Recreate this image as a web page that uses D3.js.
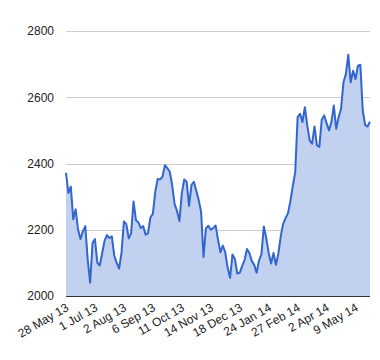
<!DOCTYPE html>
<html><head><meta charset="utf-8">
<script src="https://cdn.jsdelivr.net/npm/d3@7"></script>
<style>body{margin:0;background:#fff;} text{font-family:Arial,"Liberation Sans",sans-serif;}</style>
</head><body>
<svg id="c" width="380" height="360"></svg>
<script>
const xLabels = ["28 May 13","1 Jul 13","2 Aug 13","6 Sep 13","11 Oct 13","14 Nov 13","18 Dec 13","24 Jan 14","27 Feb 14","2 Apr 14","9 May 14"];
const labelStep = 12;
const yTicks = [2000, 2200, 2400, 2600, 2800];
const values = [
2372,2311,2330,2232,2262,2200,2172,2195,2211,2110,
2040,2160,2172,2100,2092,2130,2167,2184,2175,2180,
2122,2100,2083,2130,2225,2217,2174,2190,2285,2229,
2222,2205,2211,2185,2190,2237,2248,2315,2353,2352,
2360,2395,2386,2375,2335,2278,2257,2226,2310,2352,
2345,2272,2335,2345,2318,2290,2254,2118,2204,2212,
2200,2205,2213,2170,2132,2152,2132,2085,2055,2125,
2112,2068,2070,2090,2108,2142,2130,2106,2094,2070,
2107,2126,2210,2175,2130,2098,2130,2094,2127,2180,
2218,2235,2250,2286,2332,2373,2540,2550,2525,2570,
2515,2470,2460,2512,2455,2450,2532,2545,2522,2500,
2525,2575,2505,2540,2565,2645,2670,2728,2645,2680,
2655,2695,2698,2560,2516,2512,2526
];

const svg = d3.select("#c");
const L = 66, R = 370, T = 31, B = 296;
const x = d3.scaleLinear().domain([0, values.length - 1]).range([L, R]);
const y = d3.scaleLinear().domain([2000, 2800]).range([B, T]);

// gridlines + y labels
const ya = svg.append("g").attr("transform", `translate(${L},0)`)
  .call(d3.axisLeft(y).tickValues(yTicks).tickSize(-(R - L)).tickPadding(12).tickFormat(d3.format("d")));
ya.select(".domain").remove();
ya.selectAll(".tick line").attr("stroke", "#ccc").attr("shape-rendering", "crispEdges");
ya.selectAll(".tick text").attr("fill", "#222").attr("font-size", 12)
  .attr("font-family", "Arial, 'Liberation Sans', sans-serif");

// area + line
const area = d3.area().x((d, i) => x(i)).y0(y(2000)).y1(d => y(d));
const line = d3.line().x((d, i) => x(i)).y(d => y(d));
svg.append("path").datum(values).attr("d", area).attr("fill", "#c2d1f0");
svg.append("path").datum(values).attr("d", line).attr("fill", "none")
  .attr("stroke", "#3366cc").attr("stroke-width", 2).attr("stroke-linejoin", "round");

// baseline
svg.append("line").attr("x1", L).attr("x2", R).attr("y1", y(2000)).attr("y2", y(2000))
  .attr("stroke", "#333").attr("shape-rendering", "crispEdges");

// x axis labels
const idx = xLabels.map((_, i) => i * labelStep);
const xa = svg.append("g").attr("transform", `translate(0,${B})`)
  .call(d3.axisBottom(x).tickValues(idx).tickSize(0).tickFormat(i => xLabels[i / labelStep]));
xa.select(".domain").remove();
xa.selectAll(".tick text")
  .attr("fill", "#222").attr("font-size", 12)
  .attr("font-family", "Arial, 'Liberation Sans', sans-serif")
  .attr("text-anchor", "end")
  .attr("dy", null)
  .attr("y", 0)
  .attr("transform", "translate(3,14) rotate(-30)");
</script>
</body></html>
